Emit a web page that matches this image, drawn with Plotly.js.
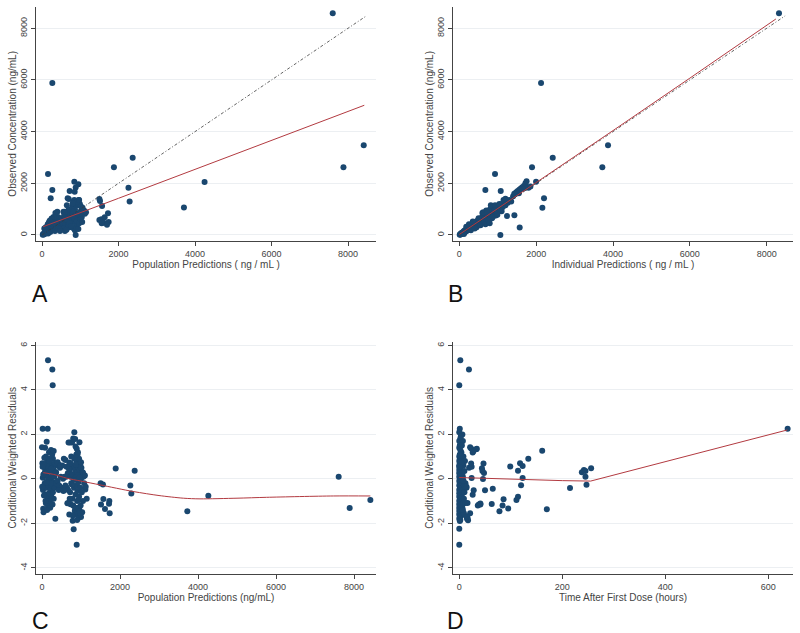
<!DOCTYPE html>
<html>
<head>
<meta charset="utf-8">
<script src="https://cdn.plot.ly/plotly-3.0.1.min.js"></script>
<style>html,body{margin:0;padding:0;background:#fff}#chart{width:800px;height:633px}</style>
</head>
<body>
<div id="chart"></div>
<script>
// ---------- Panel A: Population predictions vs observed ----------
const aPred = [20,30,45,60,70,80,95,110,120,135,150,160,175,190,200,215,230,245,260,275,290,300,320,340,60,100,150,180,220,260,300,340,380,400,420,450,480,500,520,540,560,580,600,620,650,670,700,720,740,760,780,800,820,840,860,880,900,920,940,960,980,1000,1020,1040,1060,1080,1100,830,860,900,950,880,820,870,930,960,990,780,700,650,600,560,600,640,680,720,760,790,810,850,890,910,970,1010,1050,1120,1150,400,350,300,250,200,380,440,470,300,360,
  157,270,227,270,671,723,845,950,880,854,845,906,802,700,970,
  7600,8410,7880,4250,3710,2370,1880,2260,2290,1500,1570,1516,1500,1550,1638,1725,1742,1612,1699,1560];
const aObs = [10,40,20,80,50,120,60,150,90,200,130,60,250,180,300,120,220,350,170,280,400,210,330,150,250,300,420,480,560,500,600,620,520,450,700,380,560,650,300,480,900,760,620,420,880,540,700,300,820,950,600,1100,700,500,1000,850,650,400,1150,780,560,900,1100,700,1050,850,950,250,180,300,230,0,1300,1200,1250,1350,1200,1000,1000,1150,900,250,150,200,400,450,350,800,900,650,450,550,450,600,500,820,880,900,850,700,640,550,300,250,150,480,420,
  2360,1740,1420,5880,1420,1703,2060,1960,1840,1677,1354,1290,1225,1390,1350,
  8580,3470,2620,2050,1060,2990,2620,1830,1300,1390,1120,1316,580,607,685,840,503,477,400,450];
const aLowX = [30,1000,2000,4000,6000,8425];
const aLowY = [321,850,1420,2540,3660,5020];

// ---------- Panel B: Individual predictions vs observed ----------
const bIpred = [10,20,30,40,50,60,70,80,90,100,110,120,130,140,150,160,170,180,190,200,210,220,230,240,250,260,270,280,290,300,310,320,330,340,350,360,370,380,390,400,420,440,460,480,500,520,540,560,580,600,620,640,660,680,700,720,740,760,780,800,820,840,860,880,900,920,940,960,980,1000,1020,1050,1080,1100,1130,1160,1200,1230,1260,1300,1350,1400,1430,1480,1520,1560,1600,1640,1680,1720,1750,1700,1650,1550,1450,1800,1850,
  250,300,350,450,500,550,600,650,700,750,800,850,900,950,180,120,400,620,680,720,760,820,870,930,990,1040,1100,1150,1200,
  929,677,1077,1068,1571,790,1433,1241,1997,2204,2161,2431,1892,3722,3870,8320,2127,1050,920];
const bObs = [5,30,20,60,40,80,55,100,70,120,90,150,100,170,120,190,140,210,160,240,170,260,200,290,210,300,230,320,250,360,270,380,280,400,300,420,310,450,340,480,380,520,400,560,440,600,470,650,500,700,540,720,560,760,600,800,640,850,680,880,700,920,760,960,800,1000,840,1050,900,1100,940,1150,1000,1200,1080,1250,1150,1300,1250,1350,1300,1500,1600,1650,1700,1750,1800,1850,1900,2000,2080,1820,1780,1620,1580,1830,1880,
  420,180,520,300,650,380,850,500,950,580,1000,650,1050,750,320,40,250,880,420,900,560,1150,700,1150,780,1200,920,1350,1400,
  2360,1741,1703,0,290,451,761,735,2063,1419,1058,2992,2620,2620,3470,8580,5880,1000,940];
const bLowX = [0,500,1000,2000,4000,6000,8240];
const bLowY = [20,520,1030,2030,4040,6070,8360];

// identity line used in A and B
const idLine = [0,8480];

// ---------- Panel C: Population predictions vs CWRES ----------
const cPred = [7607,7889,8419,4265,3726,1889,2376,2265,2290,1503,1563,1513,1573,1615,1726,1718,1735,1146,1111,154,265,274,17,145,79,120,342,829,812,889,786,
  0,10,20,25,30,40,50,60,70,80,90,100,100,110,120,130,140,150,150,160,170,180,180,190,200,200,210,220,230,230,240,250,250,260,270,280,280,290,300,300,310,320,330,340,350,360,380,400,420,440,460,480,500,520,540,120,170,210,260,130,90,60,40,50,155,235,190,270,300,330,225,350,75,115,15,5,35,400,430,470,
  560,600,620,640,660,680,690,700,700,710,720,720,730,740,750,760,770,780,790,800,800,810,820,830,840,850,850,860,860,870,870,880,890,890,900,900,910,910,920,920,930,940,940,950,950,960,960,970,980,980,990,1000,1000,1010,1020,1030,1040,1050,1050,1060,1070,1080,1100,1120,600,630,650,670,690,710,730,750,770,790,810,830,850,870,880,900,920,940,960,980,1000,580,550];
const cCwres = [0.09,-1.31,-0.95,-0.76,-1.46,0.47,0.37,-0.3,-0.66,-0.2,-0.25,-1.15,-0.91,-1.36,-1.0,-1.12,-1.55,-0.9,-0.48,5.33,4.92,4.21,2.25,2.25,1.4,1.67,-1.8,2.1,-2.27,-2.96,-1.88,
  1.42,0.7,0.05,-0.5,-1.35,-1.5,0.6,0.2,-0.2,0.45,-0.7,1.0,-1.1,0.3,-0.4,0.8,-0.9,0.1,-1.2,0.55,-0.3,1.2,-0.65,0.35,-0.1,-1.0,0.7,-0.5,1.3,0.0,-0.8,0.5,-0.3,1.1,0.2,-0.6,0.9,-0.15,0.4,-0.9,0.65,0.1,-0.4,0.7,-0.2,0.3,0.6,-0.1,0.65,-0.3,0.5,0.1,-0.4,0.6,0.0,0.6,0.9,-1.3,-0.9,-1.4,-1.0,0.95,0.65,-0.75,-0.05,0.45,0.8,-1.15,1.25,0.7,-0.2,0.25,0.3,-0.15,0.55,-0.35,0.2,0.75,-0.5,0.6,
  0.9,0.85,0.1,-0.4,0.25,1.64,-1.06,0.74,-1.6,0.3,1.64,-0.6,-1.14,0.1,-0.2,0.5,1.64,-0.9,0.2,1.82,-1.2,0.6,-0.4,0.0,-1.45,1.79,0.4,-0.7,1.45,0.1,-1.6,-0.3,1.35,0.8,-1.0,0.3,1.1,-0.55,-1.3,0.55,-0.15,0.2,-1.75,-0.8,0.9,1.65,-1.4,0.4,-0.4,0.62,-1.2,0.0,-1.72,0.5,-0.6,-1.5,0.3,0.28,-1.0,0.1,0.18,-0.2,0.15,-0.35,-0.3,0.55,-1.1,-0.5,0.45,-0.9,0.7,1.0,-0.25,-1.65,-0.05,0.9,-1.3,0.65,1.1,-1.85,1.2,-0.95,0.05,-1.55,0.75,0.1,-0.55];
const cLowX = [30,300,633,1000,1487,2342,3000,3624,4051,5000,5760,7470,8420];
const cLowY = [0.28,0.2,0.03,-0.1,-0.27,-0.57,-0.75,-0.87,-0.9,-0.87,-0.83,-0.77,-0.77];

// ---------- Panel D: Time after first dose vs CWRES ----------
const dTime = [0,2,0,0,1,0,2,0,3,1,0,2,4,1,0,3,1,5,0,2,1,6,0,3,1,2,0,4,1,0,3,2,0,5,1,2,0,4,1,3,0,2,6,1,0,3,2,0,5,1,0,4,2,1,0,3,1,0,2,5,0,1,3,0,2,1,0,4,1,0,2,7,8,9,10,6,7,8,5,9,7,10,12,11,14,6,3,1,4,2,0,8,
  8,6,9,7,11,14,12,16,15,16,21,26,28,24,19,24,23,26,23,34,18.8,41,38,46,47,44,48,45,50,63,65,78,84,86,95,99,111,114,114,118,120,123,123,134,161,170,215,238,242,245,256,245,247,637.6,17,14,21,33,27,36,41];
const dCwres = [4.21,5.33,-2.96,-2.24,2.25,2.1,1.8,1.7,1.6,1.5,1.4,1.3,1.2,1.1,1.0,0.95,0.9,0.85,0.8,0.75,0.7,0.65,0.6,0.55,0.5,0.45,0.4,0.35,0.3,0.25,0.2,0.15,0.1,0.05,0.0,-0.05,-0.1,-0.15,-0.2,-0.25,-0.3,-0.35,-0.4,-0.45,-0.5,-0.55,-0.6,-0.65,-0.7,-0.75,-0.8,-0.85,-0.9,-0.95,-1.0,-1.05,-1.1,-1.15,-1.2,-1.25,-1.3,-1.35,-1.4,-1.45,-1.5,-1.55,-1.6,-1.65,-1.7,-1.8,-1.85,1.7,0.6,-0.3,-0.6,-1.3,0.1,1.0,1.5,-0.9,-1.5,0.35,-0.2,0.8,-0.4,2.0,1.9,-1.9,0.7,1.05,0.55,-1.1,
  -0.07,0.24,-1.55,-1.4,-0.35,-0.35,-1.09,-1.09,-1.8,-1.75,-1.55,-0.72,-0.51,0.04,0.5,0.55,0.69,1.18,1.36,1.35,4.92,-1.15,-1.15,-0.01,0.69,0.48,0.26,0.35,-0.51,-1.13,-0.44,-1.46,-1.2,-0.92,-1.33,0.56,-0.95,-0.8,0.37,0.7,-0.29,0.58,0.04,0.9,1.26,-1.37,-0.41,0.3,0.4,0.35,0.48,0.1,-0.26,2.25,-1.86,-1.7,1.42,1.33,1.23,-1.2,-1.11];
const dLowX = [0,50,100,150,200,255,637];
const dLowY = [0.06,0.02,-0.03,-0.05,-0.08,-0.1,2.2];

// ---------- Styles ----------
const navy = '#1a476f';
const red = '#b23a40';
const font = 'Liberation Sans, Arial, sans-serif';
const mk = {color: navy, size: 6, line: {width: 0}};
const redLine = {color: red, width: 1};
const redSpline = {color: red, width: 1, shape: 'spline', smoothing: 0.8};
const idStyle = {color: '#3a3a3a', width: 0.8, dash: '3px,2px,1px,2px'};

const traces = [
  {x: aPred, y: aObs, xaxis: 'x', yaxis: 'y', mode: 'markers', type: 'scatter', marker: mk},
  {x: idLine, y: idLine, xaxis: 'x', yaxis: 'y', mode: 'lines', type: 'scatter', line: idStyle},
  {x: aLowX, y: aLowY, xaxis: 'x', yaxis: 'y', mode: 'lines', type: 'scatter', line: redLine},
  {x: bIpred, y: bObs, xaxis: 'x2', yaxis: 'y2', mode: 'markers', type: 'scatter', marker: mk},
  {x: idLine, y: idLine, xaxis: 'x2', yaxis: 'y2', mode: 'lines', type: 'scatter', line: idStyle},
  {x: bLowX, y: bLowY, xaxis: 'x2', yaxis: 'y2', mode: 'lines', type: 'scatter', line: redLine},
  {x: cPred, y: cCwres, xaxis: 'x3', yaxis: 'y3', mode: 'markers', type: 'scatter', marker: mk},
  {x: cLowX, y: cLowY, xaxis: 'x3', yaxis: 'y3', mode: 'lines', type: 'scatter', line: redSpline},
  {x: dTime, y: dCwres, xaxis: 'x4', yaxis: 'y4', mode: 'markers', type: 'scatter', marker: mk},
  {x: dLowX, y: dLowY, xaxis: 'x4', yaxis: 'y4', mode: 'lines', type: 'scatter', line: redLine}
];

const tickFont = {family: font, size: 9, color: '#444'};
const titleFont = {family: font, size: 10, color: '#444'};
function xax(domain, range, tickvals, title, anchor) {
  return {domain, range, anchor, tickvals, ticktext: tickvals.map(String), showline: true, linecolor: '#444', linewidth: 1,
    ticks: 'outside', ticklen: 4, tickcolor: '#444', showgrid: false, zeroline: false, tickfont: tickFont,
    title: {text: title, font: titleFont, standoff: 0}};
}
function yax(domain, range, tickvals, title, anchor) {
  return {domain, range, anchor, tickvals, ticktext: tickvals.map(String), showline: true, linecolor: '#444', linewidth: 1,
    ticks: 'outside', ticklen: 4, tickcolor: '#444', showgrid: true, gridcolor: '#eceff2', gridwidth: 1, zeroline: false,
    tickangle: -90, tickfont: tickFont, title: {text: title, font: titleFont, standoff: 0}};
}
const concTicks = [0,2000,4000,6000,8000];
const resTicks = [-4,-2,0,2,4,6];
const topY = [0.6193, 0.9894];
const botY = [0.0932, 0.4602];
const leftX = [0.045, 0.47];
const rightX = [0.56625, 0.99125];

const layout = {
  width: 800, height: 633,
  margin: {l: 0, r: 0, t: 0, b: 0},
  paper_bgcolor: '#fff', plot_bgcolor: '#fff',
  showlegend: false,
  font: {family: font},
  xaxis: xax(leftX, [-157, 8731], concTicks, 'Population Predictions ( ng / mL )', 'y'),
  yaxis: yax(topY, [-232, 8835], concTicks, 'Observed Concentration (ng/mL)', 'x'),
  xaxis2: xax(rightX, [-165, 8685], concTicks, 'Individual Predictions ( ng / mL )', 'y2'),
  yaxis2: yax(topY, [-232, 8835], concTicks, 'Observed Concentration (ng/mL)', 'x2'),
  xaxis3: xax(leftX, [-154, 8564], concTicks, 'Population Predictions (ng/mL)', 'y3'),
  yaxis3: yax(botY, [-4.28, 6.17], resTicks, 'Conditional Weighted Residuals', 'x3'),
  xaxis4: xax(rightX, [-12.2, 648], [0,200,400,600], 'Time After First Dose (hours)', 'y4'),
  yaxis4: yax(botY, [-4.28, 6.17], resTicks, 'Conditional Weighted Residuals', 'x4'),
  annotations: [
    {text: 'A', x: 40/800, y: 1 - 294/633},
    {text: 'B', x: 455/800, y: 1 - 294/633},
    {text: 'C', x: 40/800, y: 1 - 621/633},
    {text: 'D', x: 455/800, y: 1 - 621/633}
  ].map(a => Object.assign(a, {xref: 'paper', yref: 'paper', showarrow: false, xanchor: 'center', yanchor: 'middle',
    font: {family: font, size: 23, color: '#111'}}))
};

Plotly.newPlot('chart', traces, layout, {staticPlot: true, displayModeBar: false});
</script>
</body>
</html>
